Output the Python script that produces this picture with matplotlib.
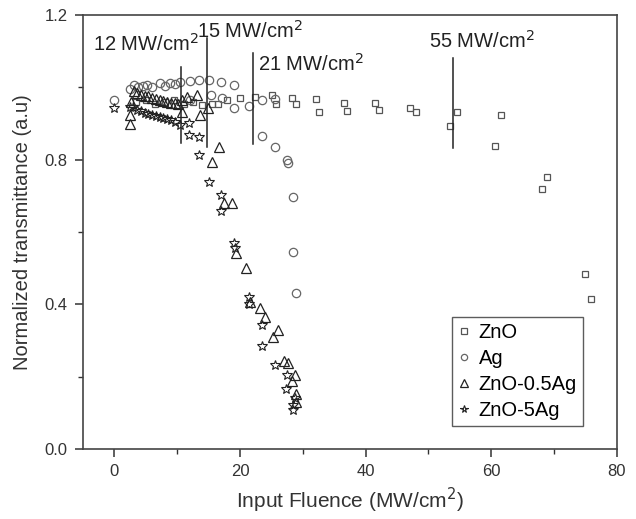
import matplotlib.pyplot as plt
from matplotlib.ticker import MultipleLocator

plt.rcParams['font.family'] = ['Liberation Sans', 'DejaVu Sans']

# ZnO
zno_x = [3.5, 5, 6.5, 8, 9.5, 11, 12.5, 14, 15.5, 16.5, 17.9, 20.0, 22.4, 25.1, 25.8, 28.3, 28.9,
         32.1, 32.6, 36.5, 37.0, 41.5, 42.2, 47.1, 48.0, 53.5, 54.5, 60.6, 61.5, 68.0, 68.8, 74.9, 75.8]
zno_y = [0.96, 0.965, 0.955, 0.96, 0.965, 0.955, 0.96, 0.95, 0.955, 0.955, 0.965, 0.970, 0.974, 0.979,
         0.954, 0.970, 0.954, 0.967, 0.933, 0.956, 0.934, 0.957, 0.937, 0.942, 0.933, 0.893, 0.933,
         0.838, 0.923, 0.718, 0.751, 0.484, 0.414]

# Ag
ag_x = [-0.1, 2.5, 3.1, 3.8, 4.5, 5.2, 6.0, 7.3, 8.1, 8.9, 9.7, 10.5, 12.1, 13.4, 15.0, 16.9, 19.0,
        12.1, 15.3, 17.1, 19.0, 21.4, 23.5, 25.6, 23.5, 25.6, 27.5, 27.6, 28.4, 28.4, 28.9]
ag_y = [0.965, 0.995, 1.006, 1.0, 1.004, 1.006, 1.0, 1.011, 1.005, 1.013, 1.008, 1.015, 1.017, 1.020,
        1.020, 1.015, 1.006, 0.965, 0.979, 0.970, 0.942, 0.948, 0.965, 0.967, 0.865, 0.836, 0.799,
        0.790, 0.698, 0.546, 0.430]

# ZnO-0.5Ag
t_x = [2.5, 2.5, 2.6, 3.1, 3.6, 4.2, 4.8, 5.4, 6.0, 6.6, 7.2, 7.8, 8.4, 9.0, 9.6, 10.2, 10.7, 10.8,
       11.5, 13.1, 13.7, 14.9, 16.7, 15.5, 17.4, 18.8, 19.3, 20.9, 21.6, 23.2, 23.9, 26.0, 25.3, 27.0,
       27.6, 28.8, 28.3, 28.9, 28.9]
t_y = [0.898, 0.923, 0.960, 0.990, 0.985, 0.980, 0.975, 0.975, 0.970, 0.968, 0.965, 0.962, 0.960,
       0.958, 0.956, 0.955, 0.965, 0.933, 0.974, 0.979, 0.923, 0.942, 0.836, 0.794, 0.679, 0.679,
       0.541, 0.500, 0.407, 0.389, 0.366, 0.329, 0.310, 0.244, 0.237, 0.205, 0.188, 0.151, 0.131]

# ZnO-5Ag
s_x = [-0.1, 2.5, 3.0, 3.6, 4.2, 4.8, 5.4, 6.0, 6.6, 7.2, 7.8, 8.4, 9.0, 9.6, 10.5, 11.8, 11.8, 13.4,
       13.4, 15.0, 17.0, 17.0, 19.0, 19.2, 21.4, 21.4, 23.5, 23.5, 25.6, 27.5, 27.3, 28.5, 28.5, 28.7]
s_y = [0.942, 0.946, 0.945, 0.937, 0.934, 0.930, 0.927, 0.924, 0.921, 0.918, 0.915, 0.912, 0.909,
       0.905, 0.896, 0.900, 0.868, 0.862, 0.813, 0.739, 0.702, 0.658, 0.570, 0.555, 0.421, 0.401,
       0.343, 0.286, 0.232, 0.205, 0.165, 0.122, 0.108, 0.140]

# threshold marks
mark_x = [10.65, 14.8, 22.1, 53.9]
mark_lo = [0.846, 0.835, 0.843, 0.832]
mark_hi = [1.055, 1.136, 1.095, 1.081]
mark_labels = ['12 MW/cm$^2$', '15 MW/cm$^2$', '21 MW/cm$^2$', '55 MW/cm$^2$']
label_x = [-3.4, 13.1, 22.9, 50.1]
label_y = [1.121, 1.156, 1.064, 1.128]

fig = plt.figure(figsize=(6.36, 5.19), dpi=100)
ax = fig.add_axes([0.1305, 0.1349, 0.8395, 0.8362])

ax.plot(zno_x, zno_y, 's', ms=5, mfc='none', mec='#555555', mew=0.9, label='ZnO')
ax.plot(ag_x, ag_y, 'o', ms=6, mfc='none', mec='#666666', mew=0.9, label='Ag')
ax.plot(t_x, t_y, '^', ms=7.5, mfc='none', mec='#222222', mew=0.9, label='ZnO-0.5Ag')
ax.plot(s_x, s_y, '*', ms=7.5, mfc='none', mec='#222222', mew=0.8, label='ZnO-5Ag')

for x, lo, hi in zip(mark_x, mark_lo, mark_hi):
    ax.plot([x, x], [lo, hi], color='#222222', lw=1.1)
for x, y, t in zip(label_x, label_y, mark_labels):
    ax.text(x, y, t, fontsize=14.5, va='center', ha='left', color='#222222')

ax.set_xlim(-5, 80)
ax.set_ylim(0, 1.2)
ax.xaxis.set_major_locator(MultipleLocator(20))
ax.xaxis.set_minor_locator(MultipleLocator(10))
ax.yaxis.set_major_locator(MultipleLocator(0.4))
ax.yaxis.set_minor_locator(MultipleLocator(0.2))
ax.yaxis.set_major_formatter(plt.FormatStrFormatter('%.1f'))
ax.tick_params(which='both', direction='out', color='#333333', labelsize=12, labelcolor='#333333')
ax.tick_params(which='major', length=6, width=1.1, pad=5)
ax.tick_params(which='minor', length=3.5, width=1.0)
for sp in ax.spines.values():
    sp.set_color('#444444')
    sp.set_linewidth(1.2)

ax.set_xlabel('Input Fluence (MW/cm$^2$)', fontsize=15, color='#333333', labelpad=5)
ax.set_ylabel('Normalized transmittance (a.u)', fontsize=14.5, color='#333333', labelpad=9)

leg = ax.legend(loc='lower right', bbox_to_anchor=(0.955, 0.03), fontsize=14.5, frameon=True,
                fancybox=False, edgecolor='#333333', handlelength=0.6, handletextpad=0.4,
                borderpad=0.3, labelspacing=0.35, markerscale=0.75)
leg.get_frame().set_linewidth(1.0)

fig.savefig('out.png', dpi=100)
